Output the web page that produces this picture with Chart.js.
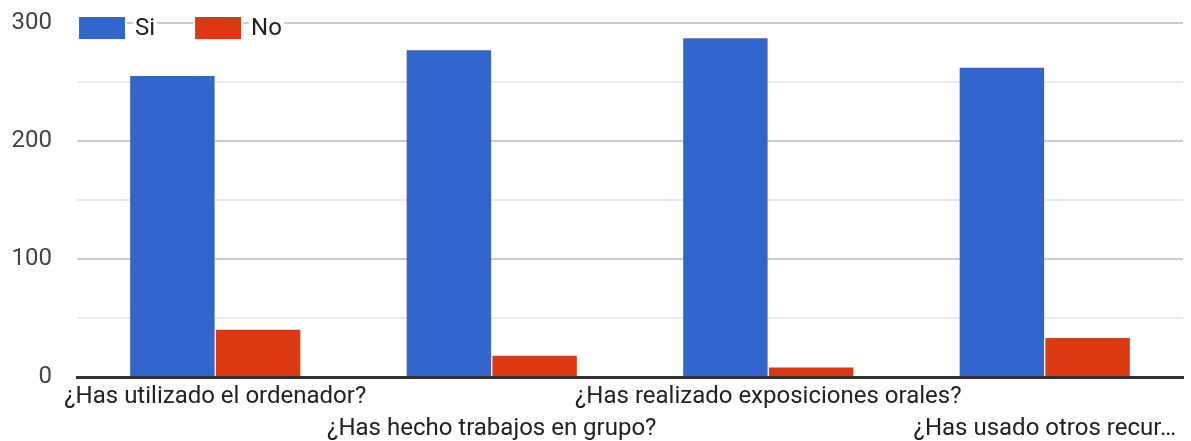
<!DOCTYPE html>
<html>
<head>
<meta charset="utf-8">
<script src="https://cdn.jsdelivr.net/npm/chart.js@4"></script>
<style>
  html, body { margin: 0; padding: 0; background: #fff; }
  #wrap { width: 1191px; height: 441px; }
</style>
</head>
<body>
<div id="wrap"><canvas id="chartRespuestas"></canvas></div>
<script>
const preguntas = [
  "¿Has utilizado el ordenador?",
  "¿Has hecho trabajos en grupo?",
  "¿Has realizado exposiciones orales?",
  "¿Has usado otros recur…"
];
const valoresSi = [255, 277, 287, 262];
const valoresNo = [40, 18, 8, 33];
const coloresSerie = ["#3366cc", "#dc3912"];
const FONT = "Roboto, Arial, sans-serif";

// leyenda dibujada a mano encima del area (como en el original)
const leyendaArriba = {
  id: "leyendaArriba",
  afterDraw(chart) {
    const ctx = chart.ctx;
    let x = 79;
    const y = 17;
    ctx.save();
    ctx.font = "24px " + FONT;
    ctx.textBaseline = "middle";
    chart.data.datasets.forEach(ds => {
      const w = ctx.measureText(ds.label).width;
      ctx.fillStyle = "#fff";
      ctx.fillRect(x - 2, y - 2, 50, 26);
      ctx.fillRect(x + 54, y - 2, w + 4, 26);
      ctx.fillStyle = ds.backgroundColor;
      ctx.fillRect(x, y, 46, 22);
      ctx.fillStyle = "#222";
      ctx.fillText(ds.label, x + 56, y + 12);
      x += 56 + w + 40;
    });
    ctx.restore();
  }
};

const chart = new Chart("chartRespuestas", {
  type: "bar",
  data: {
    labels: preguntas,
    datasets: [
      {
        label: "Si",
        data: valoresSi,
        backgroundColor: coloresSerie[0],
        barPercentage: 0.985,
        categoryPercentage: 0.62,
      },
      {
        label: "No",
        data: valoresNo,
        backgroundColor: coloresSerie[1],
        barPercentage: 0.985,
        categoryPercentage: 0.62,
      },
    ],
  },
  options: {
    responsive: true,
    maintainAspectRatio: false,
    animation: false,
    layout: { padding: { top: 23, right: 8, left: 0, bottom: 0 } },
    plugins: {
      legend: { display: false },
      tooltip: { enabled: false },
    },
    scales: {
      x: {
        grid: { display: false, drawTicks: false },
        border: { color: "#333", width: 3 },
        ticks: {
          autoSkip: false,
          maxRotation: 0,
          minRotation: 0,
          padding: 4,
          color: "#222",
          font: { family: FONT, size: 24, lineHeight: 1.33 },
          callback: function (v, i) {
            return i % 2 ? ["", preguntas[i]] : preguntas[i];
          },
        },
        afterFit(scale) { scale.height = 64; },
      },
      y: {
        min: 0,
        max: 300,
        border: { display: false },
        grid: {
          tickLength: 25,
          tickColor: "rgba(0,0,0,0)",
          color: (c) => (c.tick && c.tick.value % 100 === 0 ? "#cccccc" : "#ebebeb"),
          lineWidth: 2,
        },
        ticks: {
          stepSize: 50,
          padding: 0,
          color: "#444",
          font: { family: FONT, size: 24 },
          callback: (v) => (v % 100 === 0 ? v : ""),
        },
        afterFit(scale) { scale.width = 77; },
      },
    },
  },
  plugins: [leyendaArriba],
});
</script>
</body>
</html>
